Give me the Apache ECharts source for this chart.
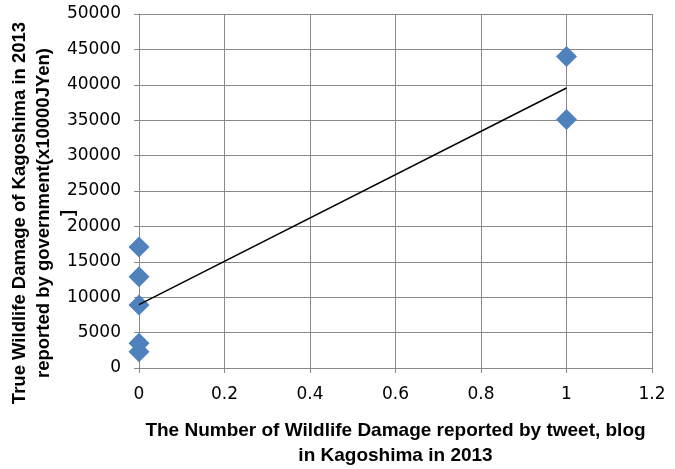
<!DOCTYPE html>
<html><head><meta charset="utf-8">
<script src="https://cdn.jsdelivr.net/npm/echarts@6/dist/echarts.min.js"></script>
<style>html,body{margin:0;padding:0;background:#fff}#c{width:675px;height:469px}</style>
</head><body><div id="c"></div>
<script>
const tweetCounts = [0, 0, 0, 0, 0, 1, 1];
const damageValues = [17100, 12900, 8900, 3500, 2300, 44000, 35100];
const xAxisTitle = 'The Number of Wildlife Damage reported by tweet, blog\nin Kagoshima in 2013';
const yAxisTitle = 'True Wildlife Damage of Kagoshima in 2013\nreported by government(x10000JYen)\n]';

// least-squares linear trendline from the data
const n = tweetCounts.length;
const mx = tweetCounts.reduce((a, b) => a + b, 0) / n;
const my = damageValues.reduce((a, b) => a + b, 0) / n;
let sxy = 0, sxx = 0;
for (let i = 0; i < n; i++) { sxy += (tweetCounts[i] - mx) * (damageValues[i] - my); sxx += (tweetCounts[i] - mx) ** 2; }
const slope = sxy / sxx, intercept = my - slope * mx;
const xMin = Math.min(...tweetCounts), xMax = Math.max(...tweetCounts);
const trend = [[xMin, intercept + slope * xMin], [xMax, intercept + slope * xMax]];

const chart = echarts.init(document.getElementById('c'), null, {renderer: 'canvas'});
const grey = '#898989';
chart.setOption({
  animation: false,
  grid: {left: 139, right: 23, top: 14, bottom: 101, containLabel: false, outerBoundsMode: 'none'},
  xAxis: {
    type: 'value', min: 0, max: 1.2, interval: 0.2,
    axisLine: {show: true, lineStyle: {color: grey, width: 1}},
    axisTick: {show: true, length: 5, lineStyle: {color: grey}},
    splitLine: {show: true, lineStyle: {color: grey, width: 1}},
    axisLabel: {color: '#000', fontFamily: 'DejaVu Sans', fontSize: 17, margin: 18,
      formatter: v => String(Math.round(v * 10) / 10)},
    name: xAxisTitle, nameLocation: 'middle', nameGap: 50, nameMoveOverlap: false,
    nameTextStyle: {color: '#000', fontFamily: 'Liberation Sans', fontWeight: 'bold', fontSize: 19, lineHeight: 25}
  },
  yAxis: {
    type: 'value', min: 0, max: 50000, interval: 5000,
    axisLine: {show: true, lineStyle: {color: grey, width: 1}},
    axisTick: {show: true, length: 5, lineStyle: {color: grey}},
    splitLine: {show: true, lineStyle: {color: grey, width: 1}},
    axisLabel: {color: '#000', fontFamily: 'DejaVu Sans', fontSize: 17, margin: 18,
      formatter: v => String(v)},
    name: yAxisTitle, nameLocation: 'middle', nameGap: 59, nameMoveOverlap: false,
    nameTextStyle: {color: '#000', fontFamily: 'Liberation Sans', fontWeight: 'bold', fontSize: 18.5, lineHeight: 24,
      padding: [0, 44, 0, 0]}
  },
  series: [
    {type: 'scatter', data: tweetCounts.map((x, i) => [x, damageValues[i]]),
     symbol: 'diamond', symbolSize: [21, 21], itemStyle: {color: '#4F81BD', opacity: 1}, z: 3},
    {type: 'line', data: trend, symbol: 'none', lineStyle: {color: '#000', width: 1.5}, z: 4, silent: true}
  ]
});
</script></body></html>
